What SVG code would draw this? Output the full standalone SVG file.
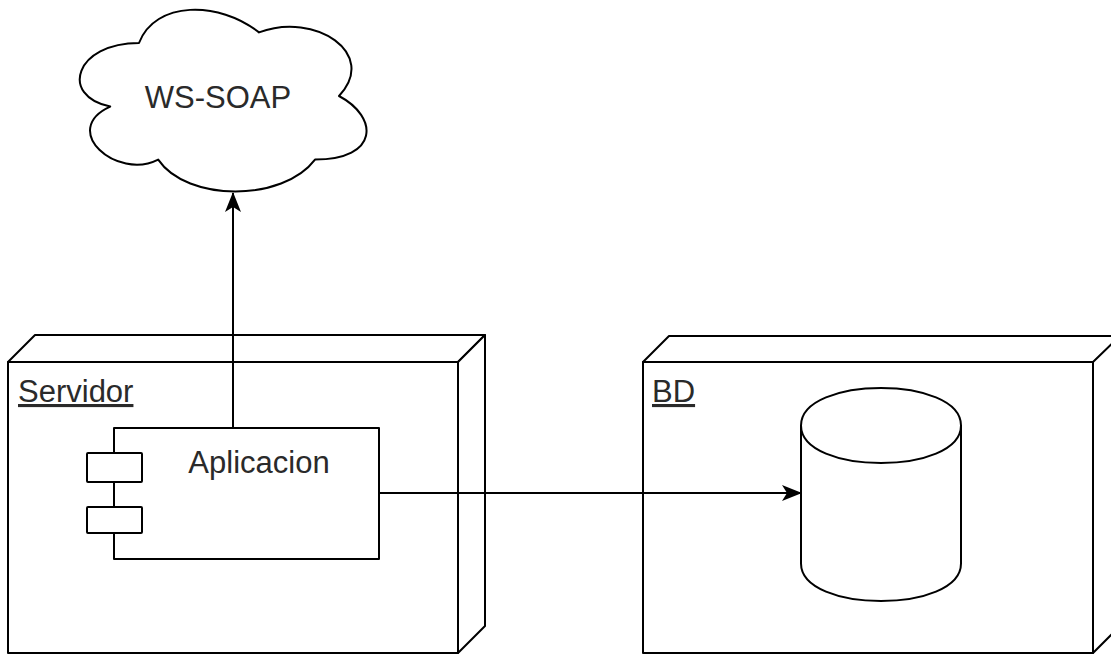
<svg xmlns="http://www.w3.org/2000/svg" width="1111" height="655" viewBox="0 0 1111 655">
<style>
.s{fill:#fff;stroke:#000;stroke-width:2;stroke-linejoin:round}
.n{fill:none;stroke:#000;stroke-width:2;stroke-linejoin:round}
.t{font-family:"Liberation Sans",Arial,sans-serif;font-size:31px;fill:#2a2a2a}
.u{text-decoration:underline}
.c{fill:none;stroke:#000;stroke-width:2}
</style>
<defs>
<marker id="arr" viewBox="0 0 20 16" refX="19" refY="8" markerWidth="20" markerHeight="16" markerUnits="userSpaceOnUse" orient="auto">
<path d="M0,0 L20,8 L0,16 L5,8 Z" fill="#000"/>
</marker>
</defs>
<rect width="1111" height="655" fill="#fff"/>
<g id="ws-soap">
<path class="s" d="M139,43 C75,43 59,96 110.2,106.6 C59,129.9 116.6,180.8 158.2,159.6 C187,202 283,202 315,159.6 C379,159.6 379,117.2 339,96 C379,53.6 315,11.2 259,32.4 C219,0.6 155,0.6 139,43 Z"/>
<text class="t" x="218" y="108" text-anchor="middle">WS-SOAP</text>
</g>
<g id="servidor">
<path class="s" d="M8,362 L35,335 L485,335 L458,362 Z"/>
<path class="s" d="M458,362 L485,335 L485,626 L458,653 Z"/>
<rect class="s" x="8" y="362" width="450" height="291"/>
<text class="t u" x="18" y="402">Servidor</text>
</g>
<g id="aplicacion">
<rect class="s" x="114" y="428" width="265" height="131"/>
<rect class="s" x="87" y="453" width="55" height="29" rx="1"/>
<rect class="s" x="87" y="507" width="55" height="26" rx="1"/>
<text class="t" x="259" y="473" text-anchor="middle">Aplicacion</text>
</g>
<g id="bd">
<path class="s" d="M643,362 L669,336 L1120,336 L1094,362 Z"/>
<path class="s" d="M1093,362 L1120,336 L1120,626 L1093,653 Z"/>
<rect class="s" x="643" y="362" width="450" height="291"/>
<text class="t u" x="652" y="402">BD</text>
</g>
<g id="database">
<path class="s" d="M801,425.5 C801,375.5 961,375.5 961,425.5 L961,563.5 C961,613.5 801,613.5 801,563.5 Z"/>
<path class="n" d="M801,425.5 C801,475.5 961,475.5 961,425.5"/>
</g>
<g id="connectors">
<path class="c" d="M233,428 L233,193" marker-end="url(#arr)"/>
<path class="c" d="M379,493 L801,493" marker-end="url(#arr)"/>
</g>
</svg>
